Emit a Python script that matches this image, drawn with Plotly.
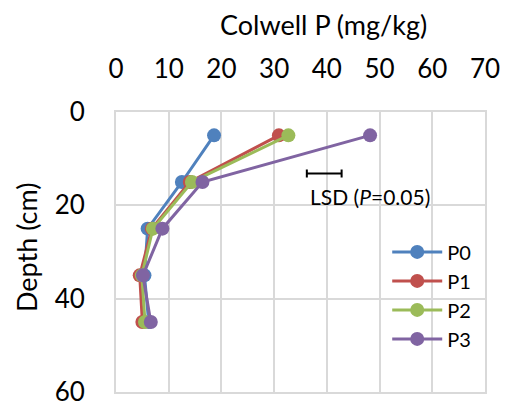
import plotly.graph_objects as go

# Soil depth (cm) at which Colwell P was sampled
depth = [5, 15, 25, 35, 45]

# Colwell P (mg/kg) for each treatment
p0 = [18.6, 12.5, 6.0, 5.4, 6.2]
p1 = [30.9, 14.0, 6.8, 4.5, 5.0]
p2 = [32.7, 14.4, 7.0, 4.9, 5.5]
p3 = [48.2, 16.4, 8.8, 5.1, 6.6]

series = [("P0", p0, "#4F81BD"), ("P1", p1, "#C0504D"),
          ("P2", p2, "#9BBB59"), ("P3", p3, "#8064A2")]

# Least significant difference bar
lsd_center = 39.5
lsd_half = 3.3
lsd_depth = 13.2

FONT = "Lato, Carlito, Calibri, sans-serif"

# Plot area in pixels
W, H = 509, 403
L, R, T, B = 116, 24, 112, 11
pw, ph = W - L - R, H - T - B

fig = go.Figure()
for name, vals, color in series:
    fig.add_trace(go.Scatter(
        x=vals, y=depth, name=name, mode="lines+markers",
        line=dict(color=color, width=3),
        marker=dict(color=color, size=14),
    ))

fig.add_trace(go.Scatter(
    x=[lsd_center], y=[lsd_depth], mode="markers",
    marker=dict(size=1, color="rgba(0,0,0,0)"),
    error_x=dict(type="data", array=[lsd_half], color="black",
                 thickness=2, width=4),
    showlegend=False, hoverinfo="skip",
))

fig.add_annotation(
    x=36.5, y=18.1, xref="x", yref="y", xanchor="left", yanchor="middle",
    text="LSD (<i>P</i>=0.05)", showarrow=False,
    font=dict(family=FONT, size=21, color="black"),
)

# Axis titles, placed by pixel position
fig.add_annotation(
    x=(323 - L) / pw, y=(H - 24 - B) / ph, xref="paper", yref="paper",
    text="Colwell P (mg/kg)", showarrow=False,
    xanchor="center", yanchor="middle",
    font=dict(family=FONT, size=27, color="black"),
)
fig.add_annotation(
    x=(26 - L) / pw, y=(H - 248 - B) / ph, xref="paper", yref="paper",
    text="Depth (cm)", showarrow=False, textangle=-90,
    xanchor="center", yanchor="middle",
    font=dict(family=FONT, size=27, color="black"),
)

grid = "#D9D9D9"
fig.update_xaxes(
    side="top", range=[0, 70], dtick=10, tick0=0,
    showgrid=True, gridcolor=grid, gridwidth=2,
    showline=True, linecolor=grid, linewidth=2, mirror=True,
    zeroline=False, ticks="", ticklabelstandoff=22, automargin=False,
    ticklabeloverflow="allow",
    tickfont=dict(family=FONT, size=26, color="black"),
)
fig.update_yaxes(
    range=[60, 0], dtick=20, tick0=0,
    showgrid=True, gridcolor=grid, gridwidth=2,
    showline=True, linecolor=grid, linewidth=2, mirror=True,
    zeroline=False, ticks="", ticklabelstandoff=24, automargin=False,
    ticklabeloverflow="allow",
    tickfont=dict(family=FONT, size=26, color="black"),
)

fig.update_layout(
    width=W, height=H,
    margin=dict(l=L, r=R, t=T, b=B),
    paper_bgcolor="white", plot_bgcolor="white",
    showlegend=True,
    legend=dict(
        x=0.735, y=0.57, xanchor="left", yanchor="top",
        bgcolor="rgba(0,0,0,0)", itemwidth=50,
        font=dict(family=FONT, size=20, color="black"),
    ),
)

fig.write_html("out.html")
